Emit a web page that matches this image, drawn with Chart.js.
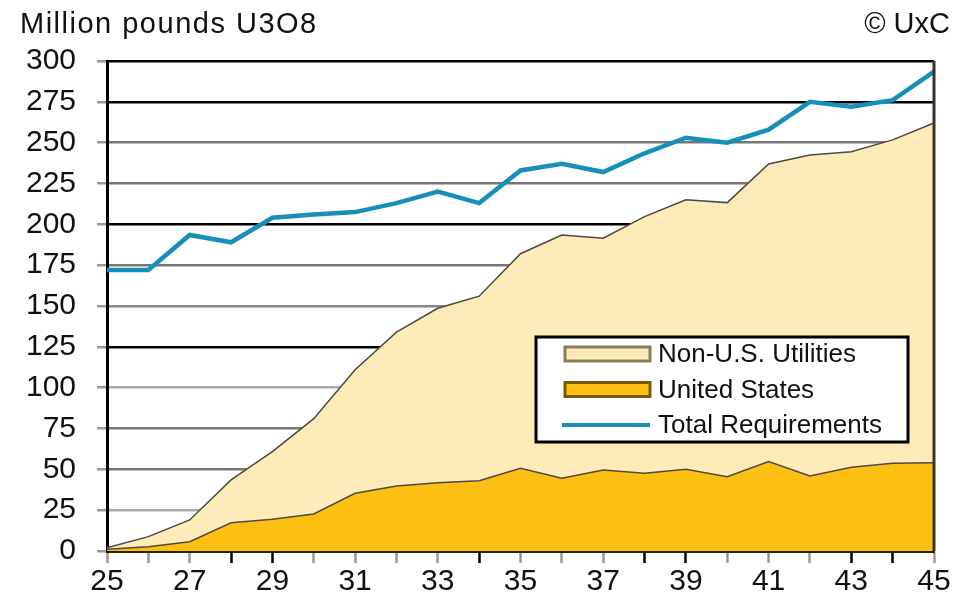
<!DOCTYPE html>
<html>
<head>
<meta charset="utf-8">
<script src="https://cdn.jsdelivr.net/npm/chart.js@4.4.1/dist/chart.umd.min.js"></script>
<style>
    html, body { margin: 0; padding: 0; background: #fff; }
    #wrap { position: relative; width: 954px; height: 607px; }
</style>
</head>
<body>
<div id="wrap"><canvas id="reqChart"></canvas></div>
<script>
// Years (20xx) along the bottom axis
const years = ['25', '26', '27', '28', '29', '30', '31', '32', '33', '34', '35',
               '36', '37', '38', '39', '40', '41', '42', '43', '44', '45'];

// Million pounds U3O8
const unitedStates = [1, 2.6, 5.7, 17.3, 19.4, 22.7, 35.3, 39.8, 41.8, 43, 50.6,
                      44.5, 49.6, 47.6, 50, 45.5, 54.7, 46, 51.3, 53.7, 54];
const nonUsUtilities = [1, 6.2, 13.3, 26.2, 41.4, 58.3, 75.7, 94.2, 106.8, 113, 131.4,
                        149, 141.9, 157.1, 165, 167.8, 182.3, 196.5, 193.2, 198, 208];
const totalRequirements = [172, 172, 193.5, 189, 204, 206, 207.5, 213, 220, 213, 233,
                           237, 232, 243.5, 253, 250, 258, 275, 272, 276, 293.5];

const yTicks = { min: 0, max: 300, step: 25 };

const FONT = "'Liberation Sans', Arial, sans-serif";
const COLORS = {
    us: '#fdbf12',
    nonUs: '#feebb7',
    total: '#1690b8',
    edge: '#4d4a44'
};

// gridline shades per y tick (0 .. 300), the scan mixes black and greys
const yGridShades = ['#000', '#aaa', '#777', '#777', '#aaa', '#000', '#888',
                     '#777', '#000', '#777', '#777', '#000', '#000'];
const xTickShades = ['#999', '#999', '#999', '#000', '#000', '#999', '#999', '#999', '#999', '#000',
                     '#999', '#999', '#999', '#000', '#000', '#999', '#999', '#999', '#000', '#000', '#999'];

/**
 * Header texts and the right edge of the plot
 */
const frame = {
    id: 'frame',
    afterDraw(chart) {
        const { ctx, chartArea } = chart;
        ctx.save();
        ctx.strokeStyle = '#3b3426';
        ctx.lineWidth = 3;
        ctx.beginPath();
        ctx.moveTo(chartArea.right, chartArea.top);
        ctx.lineTo(chartArea.right, chartArea.bottom);
        ctx.stroke();

        ctx.fillStyle = '#111';
        ctx.font = '29px ' + FONT;
        ctx.textBaseline = 'alphabetic';
        ctx.textAlign = 'left';
        ctx.letterSpacing = '1.5px';
        ctx.fillText('Million pounds U3O8', 20, 33);
        ctx.textAlign = 'right';
        ctx.letterSpacing = '0px';
        ctx.fillText('\u00a9 UxC', 950, 33);
        ctx.restore();
    }
};

/**
 * Boxed legend inside the plot
 */
const boxLegend = {
    id: 'boxLegend',
    afterDraw(chart) {
        const { ctx } = chart;
        const box = { x: 536, y: 337, w: 372, h: 105 };
        ctx.save();
        ctx.fillStyle = '#fff';
        ctx.fillRect(box.x, box.y, box.w, box.h);
        ctx.strokeStyle = '#000';
        ctx.lineWidth = 3;
        ctx.strokeRect(box.x, box.y, box.w, box.h);

        const items = [
            { label: 'Non-U.S. Utilities', fill: COLORS.nonUs, border: '#8a7c5c' },
            { label: 'United States', fill: COLORS.us, border: '#7a5a08' },
            { label: 'Total Requirements', line: COLORS.total }
        ];
        ctx.font = '26px ' + FONT;
        ctx.textBaseline = 'middle';
        ctx.textAlign = 'left';
        items.forEach((item, i) => {
            const cy = 354 + i * 35.5;
            if (item.line) {
                ctx.strokeStyle = item.line;
                ctx.lineWidth = 4;
                ctx.beginPath();
                ctx.moveTo(562, cy);
                ctx.lineTo(650, cy);
                ctx.stroke();
            } else {
                ctx.fillStyle = item.fill;
                ctx.fillRect(565, cy - 7, 85, 14);
                ctx.strokeStyle = item.border;
                ctx.lineWidth = 3;
                ctx.strokeRect(565, cy - 7, 85, 14);
            }
            ctx.fillStyle = '#111';
            ctx.fillText(item.label, 658, cy + 1);
        });
        ctx.restore();
    }
};

const config = {
    type: 'line',
    data: {
        labels: years,
        datasets: [{
            label: 'Total Requirements',
            data: totalRequirements,
            stack: 'total',
            borderColor: COLORS.total,
            borderWidth: 4.5,
            fill: false,
            pointRadius: 0,
            tension: 0
        }, {
            label: 'United States',
            data: unitedStates,
            stack: 'supply',
            borderColor: COLORS.edge,
            borderWidth: 1.5,
            backgroundColor: COLORS.us,
            fill: 'origin',
            pointRadius: 0,
            tension: 0
        }, {
            label: 'Non-U.S. Utilities',
            data: nonUsUtilities,
            stack: 'supply',
            borderColor: COLORS.edge,
            borderWidth: 1.5,
            backgroundColor: COLORS.nonUs,
            fill: '-1',
            pointRadius: 0,
            tension: 0
        }]
    },
    options: {
        responsive: false,
        animation: false,
        layout: {
            padding: { top: 61, right: 20, bottom: 0, left: 0 }
        },
        plugins: {
            legend: { display: false },
            tooltip: { enabled: false }
        },
        scales: {
            x: {
                offset: false,
                afterFit(scale) { scale.height = 56; },
                grid: {
                    drawOnChartArea: false,
                    tickLength: 12,
                    tickWidth: 2.5,
                    tickColor: ctx => xTickShades[ctx.index] || '#999'
                },
                border: { color: '#2b2000', width: 3 },
                ticks: {
                    autoSkip: false,
                    maxRotation: 0,
                    padding: 1,
                    color: '#111',
                    font: { family: FONT, size: 30 },
                    callback(value, index) {
                        return index % 2 === 0 ? this.getLabelForValue(value) : '';
                    }
                }
            },
            y: {
                stacked: true,
                min: yTicks.min,
                max: yTicks.max,
                afterFit(scale) { scale.width = 107; },
                grid: {
                    color: ctx => yGridShades[ctx.index] || '#888',
                    lineWidth: 2.5,
                    tickLength: 10,
                    tickColor: '#999'
                },
                border: { color: '#000', width: 3 },
                ticks: {
                    stepSize: yTicks.step,
                    padding: 21,
                    color: '#111',
                    font: { family: FONT, size: 30 }
                }
            }
        }
    },
    plugins: [frame, boxLegend]
};

const canvas = document.getElementById('reqChart');
canvas.width = 954;
canvas.height = 607;
new Chart(canvas, config);
</script>
</body>
</html>
